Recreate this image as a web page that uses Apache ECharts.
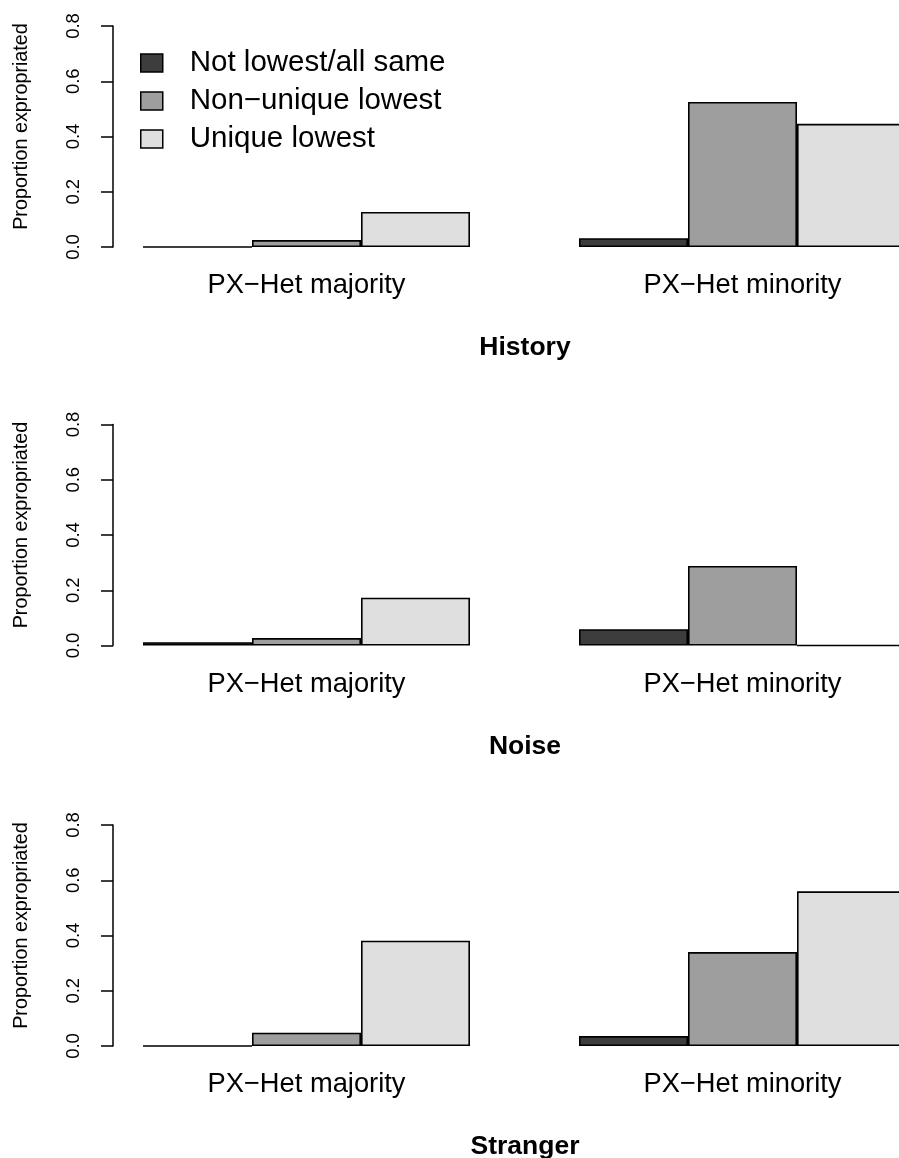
<!DOCTYPE html>
<html>
<head>
    <meta charset="utf-8">
    <title>Proportion expropriated</title>
    <script src="https://cdn.jsdelivr.net/npm/echarts@6/dist/echarts.min.js"></script>
    <style>
        html, body { margin: 0; padding: 0; background: #fff; }
        #main { width: 899px; height: 1158px; }
    </style>
</head>
<body>
    <div id="main"></div>
    <script>
        // data
        const groups = ['PX\u2212Het majority', 'PX\u2212Het minority'];
        const types = ['Not lowest/all same', 'Non\u2212unique lowest', 'Unique lowest'];
        const conditions = ['History', 'Noise', 'Stranger'];
        const yTicks = [0, 0.2, 0.4, 0.6, 0.8];

        // values per type: [majority, minority]
        const historyNotLowest = [0, 0.032];
        const historyNonUnique = [0.025, 0.525];
        const historyUnique = [0.127, 0.446];

        const noiseNotLowest = [0.012, 0.059];
        const noiseNonUnique = [0.027, 0.288];
        const noiseUnique = [0.173, 0];

        const strangerNotLowest = [0, 0.036];
        const strangerNonUnique = [0.048, 0.340];
        const strangerUnique = [0.381, 0.560];

        const panelValues = [
            [historyNotLowest, historyNonUnique, historyUnique],
            [noiseNotLowest, noiseNonUnique, noiseUnique],
            [strangerNotLowest, strangerNonUnique, strangerUnique]
        ];

        const fills = ['#3d3d3d', '#9e9e9e', '#dfdfdf'];
        const font = '"Liberation Sans", Arial, Helvetica, sans-serif';
        const panelTops = [26, 424.5, 825];
        const panelH = 221;
        const barW = 109;

        const chart = echarts.init(document.getElementById('main'), null, { renderer: 'canvas' });

        const grids = [], xAxes = [], yAxes = [], series = [], graphics = [];
        panelValues.forEach(function (vals, p) {
            // plot region runs past the right edge, as in the original figure
            grids.push({
                left: 88.5, width: 872, top: panelTops[p], height: panelH,
                containLabel: false, outerBoundsMode: 'none'
            });
            xAxes.push({
                type: 'category', gridIndex: p, data: groups,
                axisLine: { show: false }, axisTick: { show: false },
                axisLabel: { color: '#000', fontSize: 27.3, fontFamily: font, margin: 25 },
                splitLine: { show: false }
            });
            yAxes.push({
                type: 'value', gridIndex: p, min: yTicks[0], max: yTicks[yTicks.length - 1],
                interval: 0.2, offset: -24.5,
                axisLine: { show: true, lineStyle: { color: '#000', width: 1.5 } },
                axisTick: { show: true, length: 12, lineStyle: { color: '#000', width: 1.5 } },
                axisLabel: {
                    rotate: 90, color: '#000', fontSize: 18.5, fontFamily: font, margin: 30,
                    formatter: function (v) { return v.toFixed(1); }
                },
                splitLine: { show: false }
            });
            vals.forEach(function (v, s) {
                series.push({
                    name: types[s], type: 'bar', xAxisIndex: p, yAxisIndex: p,
                    data: v, barWidth: barW, barGap: '0%',
                    itemStyle: { color: fills[s], borderColor: '#000', borderWidth: 1.6 },
                    emphasis: { disabled: true }
                });
            });
            // y axis title
            graphics.push({
                type: 'text', x: 22, y: panelTops[p] + 100.5, rotation: Math.PI / 2,
                style: {
                    text: 'Proportion expropriated', fill: '#000', fontSize: 19.8,
                    fontFamily: font, align: 'center', verticalAlign: 'middle'
                }
            });
            // panel title
            graphics.push({
                type: 'text', x: 525, y: panelTops[p] + 322,
                style: {
                    text: conditions[p], fill: '#000', fontSize: 26.5, fontWeight: 'bold',
                    fontFamily: font, align: 'center', verticalAlign: 'middle'
                }
            });
        });

        chart.setOption({
            animation: false,
            backgroundColor: '#fff',
            grid: grids,
            xAxis: xAxes,
            yAxis: yAxes,
            series: series,
            legend: {
                data: types, orient: 'vertical', left: 140, top: 48, padding: 0,
                itemWidth: 22, itemHeight: 18, itemGap: 8,
                icon: 'rect',
                itemStyle: { borderColor: '#000', borderWidth: 1.5 },
                textStyle: { color: '#000', fontSize: 29.5, fontFamily: font, lineHeight: 29, padding: [0, 0, 0, 22] }
            },
            graphic: graphics
        });
    </script>
</body>
</html>
